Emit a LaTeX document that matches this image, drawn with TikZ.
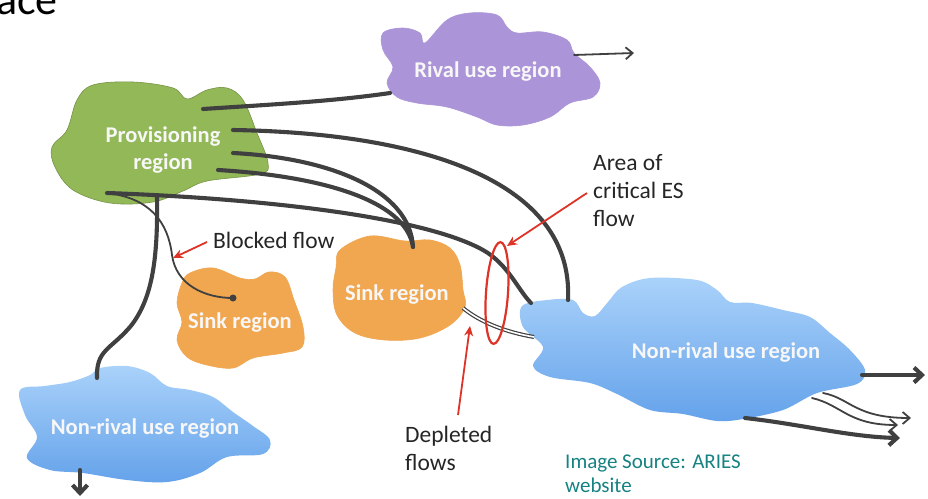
\documentclass[tikz,border=0pt]{standalone}
\usepackage{fontspec}
\setmainfont{Carlito}
\usetikzlibrary{arrows.meta}
\definecolor{flowgray}{RGB}{64,64,64}
\definecolor{greenc}{RGB}{147,184,88}
\definecolor{purplec}{RGB}{172,148,216}
\definecolor{orangec}{RGB}{241,166,80}
\definecolor{bluetop}{RGB}{170,210,250}
\definecolor{bluebot}{RGB}{100,162,234}
\definecolor{redc}{RGB}{222,52,40}
\definecolor{tealc}{RGB}{22,130,130}
\begin{document}
\begin{tikzpicture}[x=1pt,y=-1pt,
  flow/.style={draw=flowgray, line width=4.1pt, line cap=round},
  thinflow/.style={draw=flowgray, line width=1.8pt, line cap=round},
  outarrow/.style={flow, -{Straight Barb[length=8pt,width=15pt]}},
  thinarrow/.style={thinflow, -{Straight Barb[length=7pt,width=12pt]}},
  redarrow/.style={draw=redc, line width=1.8pt, -{Stealth[length=10pt,width=9pt]}},
  blobtext/.style={text=white!94!gray, font=\bfseries\fontsize{22.5}{27}\selectfont, align=center, inner sep=0pt},
  lbl/.style={text=black!85, font=\fontsize{23.5}{28}\selectfont, align=left, inner sep=0pt},
  blob/.style={line width=0.6pt}
]
\useasboundingbox (0,0) rectangle (928,498);
\fill[white] (0,0) rectangle (928,498);

% title fragment
\node[anchor=base west, inner sep=0pt, font=\fontsize{44}{50}\selectfont, text=black] (title) at (-4,14) {ace};

% ---------- blobs ----------
\draw[blob, fill=greenc, draw=greenc!80!black] plot[smooth cycle, tension=0.6] coordinates {
 (52,147) (67,130) (77,100) (93,85) (133,82) (173,88) (187,99) (207,90) (227,88) (243,100)
 (257,133) (268,163) (260,174) (207,181) (183,191) (153,202) (110,203) (73,190) (55,167)};
\node[blobtext] (prov) at (163,150) {Provisioning\\region};

\draw[blob, fill=purplec, draw=purplec] plot[smooth cycle, tension=0.6] coordinates {
 (383,33) (403,28) (420,33) (425,43) (447,20) (470,13) (497,15) (507,27) (517,33) (543,32)
 (567,40) (574,53) (590,67) (600,83) (593,97) (570,103) (550,117) (523,125) (497,125)
 (477,117) (447,107) (417,103) (397,97) (387,83) (393,67) (383,50)};
\node[blobtext] (rival) at (488,72) {Rival use region};

\draw[blob, fill=orangec, draw=orangec] plot[smooth cycle, tension=0.6] coordinates {
 (190,273) (213,268) (240,278) (255,279) (269,272) (285,277) (294,300) (303,327) (302,347)
 (283,353) (253,358) (233,368) (207,365) (187,357) (177,340) (182,322) (177,303) (182,283)};
\node[blobtext] (sink1) at (240,323) {Sink region};

\draw[blob, fill=orangec, draw=orangec] plot[smooth cycle, tension=0.6] coordinates {
 (340,250) (370,236) (405,241) (430,240) (450,248) (460,265) (463,290) (465,307) (450,325)
 (420,338) (385,340) (355,333) (337,315) (333,290) (336,268)};
\node[blobtext] (sink2) at (397,295) {Sink region};

\shade[top color=bluetop, bottom color=bluebot] plot[smooth cycle, tension=0.6] coordinates {
 (20,390) (45,386) (70,382) (90,375) (100,368) (127,366) (150,373) (167,386) (190,390)
 (213,397) (233,412) (253,426) (270,440) (263,454) (227,457) (200,473) (167,482) (127,480)
 (83,473) (50,470) (27,458) (37,437) (25,415)};
\node[blobtext] (nonrival1) at (145,429) {Non-rival use region};

\shade[top color=bluetop, bottom color=bluebot] plot[smooth cycle, tension=0.55] coordinates {
 (522,306) (547,300) (573,300) (583,313) (595,316) (608,302) (622,287) (650,278) (697,280)
 (717,290) (730,302) (752,303) (783,310) (810,317) (830,333) (850,350) (865,370) (857,384)
 (817,393) (783,410) (743,419) (717,421) (683,414) (650,410) (617,394) (590,383) (550,377)
 (533,366) (543,347) (523,327)};
\node[blobtext] (nonrival2) at (726,353) {Non-rival use region};

% ---------- anchor coordinates ----------
\coordinate (g1) at (203,109);
\coordinate (g2) at (233,130);
\coordinate (g3) at (233,153);
\coordinate (g4) at (218,170);
\coordinate (g5) at (107,193);
\coordinate (g6) at (157,197);
\coordinate (p1) at (390,93);
\coordinate (p2) at (574,55);
\coordinate (p3) at (634,53);
\coordinate (s2t) at (413,247);
\coordinate (s2r) at (463,308);
\coordinate (s1d) at (233,298);
\coordinate (b1) at (568,300);
\coordinate (b2) at (531,303);
\coordinate (b3) at (534,337);
\coordinate (b4) at (862,375);
\coordinate (b5) at (823,393);
\coordinate (b6) at (812,398);
\coordinate (b7) at (745,418);
\coordinate (e4) at (925,375);
\coordinate (e5) at (911,418);
\coordinate (e6) at (898,425);
\coordinate (e7) at (900,438);
\coordinate (a1) at (97,378);
\coordinate (a2) at (80,470);
\coordinate (a3) at (80,496);

% ---------- flows ----------
\draw[flow] (g1) .. controls (280,104) and (335,101) .. (p1);
\draw[thinarrow] (p2) -- (p3);
\draw[flow] (g2) .. controls (420,133) and (574,180) .. (b1);
\draw[flow] (g3) .. controls (330,158) and (410,190) .. (s2t);
\draw[flow] (g4) .. controls (320,176) and (406,200) .. (s2t);
\draw[flow] (g5) .. controls (250,198) and (420,215) .. (483,250) .. controls (508,264) and (518,290) .. (b2);
\draw[thinflow] (g5) .. controls (150,198) and (168,222) .. (172,255) .. controls (176,285) and (205,298) .. (s1d);
\fill[flowgray] (s1d) circle (3.5);
\draw[flow] (g6) .. controls (158,260) and (152,300) .. (130,327) .. controls (110,350) and (96,350) .. (a1);
\draw[draw=flowgray, line width=1.2pt, double=white, double distance=1.6pt] (s2r) .. controls (480,322) and (505,332) .. (b3);

\draw[outarrow] (a2) -- (a3);
\draw[outarrow] (b4) -- (e4);
\draw[thinarrow] (b5) .. controls (850,398) and (855,418) .. (e5);
\draw[thinarrow] (b6) .. controls (842,405) and (848,425) .. (e6);
\draw[outarrow] (b7) .. controls (800,424) and (850,437) .. (e7);

% ---------- annotations ----------
\coordinate (ellc) at (497,293);
\draw[redc, line width=2.2pt, rotate around={-4:(ellc)}] (ellc) ellipse [x radius=11, y radius=51];

\node[lbl, anchor=base west] (blocked) at (213,248) {Blocked flow};
\coordinate (blktip) at (173,258);
\coordinate (blktail) at (207,242);
\draw[redarrow] (blktail) -- (blktip);

\node[lbl, anchor=base west] (area) at (593,226) {Area of\\critical ES\\flow};
\coordinate (areatip) at (507,246);
\coordinate (areatail) at (587,193);
\draw[redarrow] (areatail) -- (areatip);

\node[lbl, anchor=base west] (depl) at (405,470) {Depleted\\flows};
\coordinate (depltip) at (470,326);
\coordinate (depltail) at (458,415);
\draw[redarrow] (depltail) -- (depltip);

\node[anchor=base west, inner sep=0pt, text=tealc, align=left, font=\fontsize{21}{24}\selectfont] (src) at (565,492) {Image Source: ARIES\\website};
\end{tikzpicture}
\end{document}
